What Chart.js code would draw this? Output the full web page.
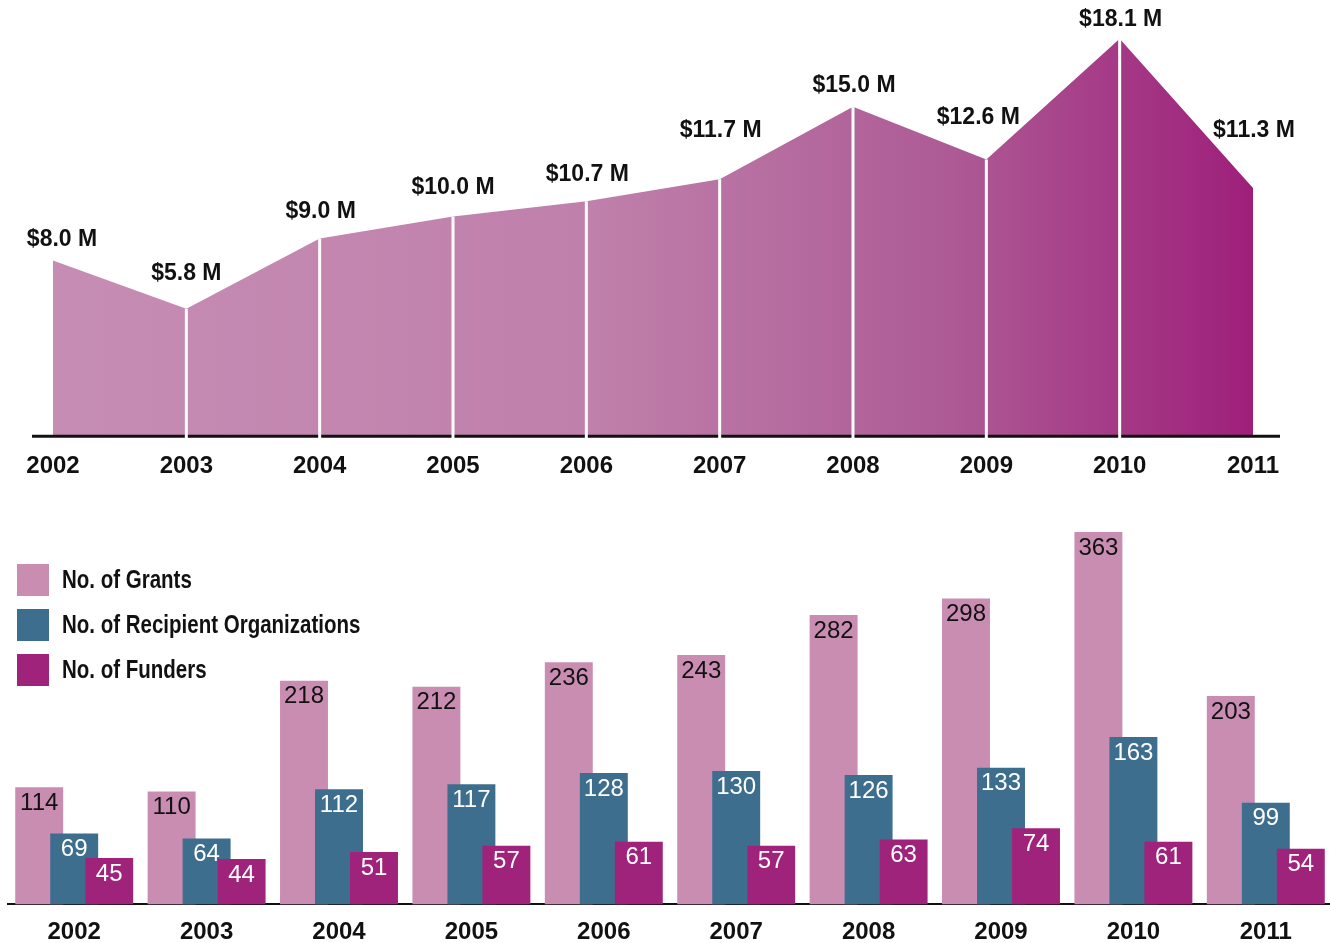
<!DOCTYPE html>
<html>
<head>
<meta charset="utf-8">
<script src="https://cdn.jsdelivr.net/npm/chart.js@4.4.1/dist/chart.umd.min.js"></script>
<style>
  html, body { margin: 0; padding: 0; background: #fff; overflow: hidden; width: 1330px; height: 943px; }
  #top { position: absolute; left: 0; top: 0; }
  #bottom { position: absolute; left: 0; top: 490px; }
</style>
</head>
<body>
<canvas id="top" width="1330" height="506"></canvas>
<canvas id="bottom" width="1340" height="497"></canvas>
<script>
var years = ['2002', '2003', '2004', '2005', '2006', '2007', '2008', '2009', '2010', '2011'];
var funding = [8.0, 5.8, 9.0, 10.0, 10.7, 11.7, 15.0, 12.6, 18.1, 11.3]; // $ millions
var grants = [114, 110, 218, 212, 236, 243, 282, 298, 363, 203];
var recipients = [69, 64, 112, 117, 128, 130, 126, 133, 163, 99];
var funders = [45, 44, 51, 57, 61, 57, 63, 74, 61, 54];

var numFont = "'Liberation Sans', Arial, sans-serif";

// nudges for the $ labels so they sit like the original (relative to each point)
var labelNudge = [[9, -21], [0, -35], [1, -27], [0, -29], [1, -27], [1, -49], [1, -21], [-8, -42], [1, -19], [1, -57]];

var topDecor = {
    id: 'topDecor',
    afterDatasetsDraw: function (chart) {
        var ctx = chart.ctx;
        var meta = chart.getDatasetMeta(0);
        var xs = chart.scales.x, ys = chart.scales.y;
        var base = ys.getPixelForValue(0);
        ctx.save();
        // axis line, a bit wider than the area
        ctx.strokeStyle = '#111';
        ctx.lineWidth = 3;
        ctx.beginPath();
        ctx.moveTo(xs.left - 21, base);
        ctx.lineTo(xs.right + 27, base);
        ctx.stroke();
        // white separators at each inner year
        ctx.strokeStyle = '#fff';
        ctx.lineWidth = 3;
        for (var i = 1; i < meta.data.length - 1; i++) {
            var p = meta.data[i];
            ctx.beginPath();
            ctx.moveTo(p.x, p.y);
            ctx.lineTo(p.x, base + 3);
            ctx.stroke();
        }
        // value labels
        ctx.fillStyle = '#111';
        ctx.font = 'bold 23px ' + numFont;
        ctx.textAlign = 'center';
        ctx.textBaseline = 'middle';
        meta.data.forEach(function (p, i) {
            ctx.fillText('$' + funding[i].toFixed(1) + ' M', p.x + labelNudge[i][0], p.y + labelNudge[i][1]);
        });
        ctx.restore();
    }
};

new Chart(document.getElementById('top').getContext('2d'), {
    type: 'line',
    data: {
        labels: years,
        datasets: [{
            data: funding,
            fill: 'origin',
            borderWidth: 0,
            pointRadius: 0,
            tension: 0,
            backgroundColor: function (c) {
                var a = c.chart.chartArea;
                if (!a) return '#c48ab2';
                var g = c.chart.ctx.createLinearGradient(a.left, 0, a.right, 0);
                g.addColorStop(0, '#c68db4');
                g.addColorStop(0.45, '#bf80ab');
                g.addColorStop(0.75, '#ad5a95');
                g.addColorStop(1, '#9e1f7a');
                return g;
            }
        }]
    },
    options: {
        responsive: false,
        animation: false,
        layout: { padding: { left: 53, right: 77, top: 8, bottom: 9 } },
        plugins: { legend: { display: false }, tooltip: { enabled: false } },
        scales: {
            x: {
                offset: false,
                grid: { display: false, drawTicks: false },
                border: { display: false },
                ticks: { padding: 16, color: '#111', autoSkip: false, maxRotation: 0,
                         font: { family: numFont, size: 24, weight: 'bold' } }
            },
            y: { display: false, min: 0, max: 19.5 }
        }
    },
    plugins: [topDecor]
});

// bars overlap, so draw them left to right (later series on top), then labels + legend
var barDecor = {
    id: 'barDecor',
    beforeDatasetsDraw: function (chart) {
        for (var i = 0; i < chart.data.datasets.length; i++) {
            chart.getDatasetMeta(i).controller.draw();
        }
        return false;
    },
    afterDraw: function (chart) {
        var ctx = chart.ctx;
        ctx.save();
        ctx.textAlign = 'center';
        ctx.textBaseline = 'middle';
        ctx.font = '24px ' + numFont;
        chart.data.datasets.forEach(function (ds, i) {
            ctx.fillStyle = i === 0 ? '#111' : '#fff';
            chart.getDatasetMeta(i).data.forEach(function (bar, j) {
                ctx.fillText(String(ds.data[j]), bar.x, bar.y + 16);
            });
        });
        // legend (narrow lettering: squeeze the sans horizontally)
        ctx.textAlign = 'left';
        ctx.font = 'bold 25px ' + numFont;
        chart.data.datasets.forEach(function (ds, i) {
            var top = 74 + i * 45;
            ctx.fillStyle = ds.backgroundColor;
            ctx.fillRect(17, top, 32, 32);
            ctx.fillStyle = '#111';
            ctx.save();
            ctx.translate(62, top + 17);
            ctx.scale(0.82, 1);
            ctx.fillText(ds.label, 0, 0);
            ctx.restore();
        });
        ctx.restore();
    }
};

new Chart(document.getElementById('bottom').getContext('2d'), {
    type: 'bar',
    data: {
        labels: years,
        datasets: [
            { label: 'No. of Grants', data: grants, backgroundColor: '#c98db2' },
            { label: 'No. of Recipient Organizations', data: recipients, backgroundColor: '#3e6e8e' },
            { label: 'No. of Funders', data: funders, backgroundColor: '#a0237b' }
        ]
    },
    options: {
        responsive: false,
        animation: false,
        datasets: { bar: { categoryPercentage: 0.793, barPercentage: 1.37, borderWidth: 0 } },
        layout: { padding: { left: 8, right: 8, top: 4, bottom: 26 } },
        plugins: { legend: { display: false }, tooltip: { enabled: false } },
        scales: {
            x: {
                grid: { display: false, drawTicks: false },
                border: { display: true, color: '#111', width: 2 },
                ticks: { padding: 14, color: '#111', autoSkip: false, maxRotation: 0,
                         font: { family: numFont, size: 24, weight: 'bold' } }
            },
            y: { display: false, min: 0, max: 400 }
        }
    },
    plugins: [barDecor]
});
</script>
</body>
</html>
